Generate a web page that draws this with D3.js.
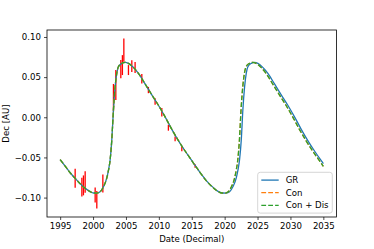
<!DOCTYPE html>
<html>
<head>
<meta charset="utf-8">
<script src="https://cdn.jsdelivr.net/npm/d3@7"></script>
<style>
  body { margin: 0; background: #fff; }
  text { font-family: "DejaVu Sans", sans-serif; font-size: 8.6px; fill: #000; }
</style>
</head>
<body>
<div class="chart"></div>
<script>
// GR model curve
let grYear = [1995.00, 1995.76, 1996.52, 1997.28, 1998.04, 1998.80, 1999.56, 2000.06, 2000.58, 2001.08,
    2001.58, 2002.09, 2002.34, 2002.60, 2002.85, 2003.10, 2003.35, 2003.61, 2003.85, 2004.37,
    2004.87, 2005.38, 2006.13, 2006.89, 2007.91, 2008.93, 2009.93, 2010.95, 2011.97, 2012.97,
    2013.99, 2015.01, 2015.51, 2016.27, 2017.28, 2018.29, 2019.00, 2019.73, 2020.25, 2020.75,
    2021.25, 2021.77, 2022.01, 2022.27, 2022.53, 2022.77, 2023.03, 2023.29, 2023.53, 2024.04,
    2024.55, 2025.05, 2025.80, 2026.57, 2027.58, 2028.60, 2029.60, 2030.62, 2031.64, 2032.64,
    2033.66, 2034.68, 2035.00];
let grDec = [-0.0526, -0.0609, -0.0691, -0.0761, -0.0827, -0.0885, -0.0926, -0.0943, -0.0944, -0.0928,
    -0.0866, -0.0755, -0.0662, -0.0526, -0.0278, 0.0093, 0.0378, 0.0551, 0.0629, 0.0671,
    0.0683, 0.0671, 0.0621, 0.0547, 0.0415, 0.0280, 0.0150, 0.0005, -0.0150, -0.0290,
    -0.0420, -0.0540, -0.0600, -0.0688, -0.0795, -0.0876, -0.0922, -0.0943, -0.0944, -0.0928,
    -0.0866, -0.0755, -0.0662, -0.0526, -0.0278, 0.0093, 0.0378, 0.0551, 0.0629, 0.0671,
    0.0683, 0.0671, 0.0621, 0.0547, 0.0415, 0.0280, 0.0150, 0.0005, -0.0150, -0.0290,
    -0.0420, -0.0540, -0.0576];

// Con / Con + Dis: same as GR on the first orbit, a bit earlier on the second
let conYear = [1995.00, 1995.76, 1996.52, 1997.28, 1998.04, 1998.80, 1999.56, 2000.06, 2000.58, 2001.08,
    2001.58, 2002.09, 2002.34, 2002.60, 2002.85, 2003.10, 2003.35, 2003.61, 2003.85, 2004.37,
    2004.87, 2005.38, 2006.13, 2006.89, 2007.91, 2008.93, 2009.93, 2010.95, 2011.97, 2012.97,
    2013.99, 2015.01, 2015.51, 2016.27, 2017.26, 2018.25, 2018.95, 2019.62, 2020.10, 2020.55,
    2021.03, 2021.52, 2021.75, 2022.00, 2022.25, 2022.49, 2022.75, 2023.01, 2023.25, 2023.76,
    2024.27, 2024.77, 2025.52, 2026.29, 2027.30, 2028.32, 2029.32, 2030.34, 2031.36, 2032.36,
    2033.38, 2034.40, 2035.00];
let conDec = [-0.0526, -0.0609, -0.0691, -0.0761, -0.0827, -0.0885, -0.0926, -0.0943, -0.0944, -0.0928,
    -0.0866, -0.0755, -0.0662, -0.0526, -0.0278, 0.0093, 0.0378, 0.0551, 0.0629, 0.0671,
    0.0683, 0.0671, 0.0621, 0.0547, 0.0415, 0.0280, 0.0150, 0.0005, -0.0150, -0.0290,
    -0.0420, -0.0540, -0.0600, -0.0688, -0.0795, -0.0876, -0.0922, -0.0943, -0.0944, -0.0928,
    -0.0866, -0.0755, -0.0662, -0.0526, -0.0278, 0.0093, 0.0378, 0.0551, 0.0629, 0.0671,
    0.0683, 0.0671, 0.0621, 0.0547, 0.0415, 0.0280, 0.0150, 0.0005, -0.0150, -0.0290,
    -0.0420, -0.0540, -0.0610];
let disYear = conYear.slice();
let disDec = conDec.slice();

// observations with errors
let obsYear = [1997.28, 1998.30, 1998.54, 1998.80, 2000.32, 2000.57, 2001.49, 2003.10, 2003.46, 2004.22,
    2004.46, 2004.68, 2005.38, 2005.89, 2006.39, 2007.41, 2008.41, 2009.43, 2010.45, 2011.45,
    2012.47, 2013.49, 2015.51];
let obsDec = [-0.0759, -0.0870, -0.0848, -0.0805, -0.0969, -0.1027, -0.0825, 0.0244, 0.0402, 0.0599,
    0.0650, 0.0836, 0.0588, 0.0637, 0.0619, 0.0480, 0.0339, 0.0196, 0.0062, -0.0130,
    -0.0269, -0.0392, -0.0606];
let obsErr = [0.0118, 0.0118, 0.0124, 0.0134, 0.0093, 0.0109, 0.0113, 0.0171, 0.0186, 0.0114,
    0.0124, 0.0145, 0.0062, 0.0074, 0.0068, 0.0058, 0.0039, 0.0041, 0.0052, 0.0037,
    0.0031, 0.0031, 0.0022];

let xTicks = [1995, 2000, 2005, 2010, 2015, 2020, 2025, 2030, 2035];
let yTicks = [-0.10, -0.05, 0.00, 0.05, 0.10];
let seriesNames = ["GR", "Con", "Con + Dis"];
let seriesColors = ["#1f77b4", "#ff7f0e", "#2ca02c"];

let svgWidth = 374;
let svgHeight = 249;
let margin = { top: 30, right: 37.5, bottom: 32, left: 47 };
let width = svgWidth - margin.left - margin.right;
let height = svgHeight - margin.top - margin.bottom;

let svg = d3.select(".chart")
    .append("svg")
    .attr("width", svgWidth)
    .attr("height", svgHeight);

let chartGroup = svg.append("g")
    .attr("transform", `translate(${margin.left}, ${margin.top})`);

// matplotlib-style 5% padding
function padded(lo, hi) {
    let p = (hi - lo) * 0.05;
    return [lo - p, hi + p];
}

let allX = grYear.concat(conYear, obsYear);
let allY = grDec.concat(conDec, obsDec.map((d, i) => d - obsErr[i]), obsDec.map((d, i) => d + obsErr[i]));

let xScale = d3.scaleLinear()
    .domain(padded(d3.min(allX), d3.max(allX)))
    .range([0, width]);
let yScale = d3.scaleLinear()
    .domain(padded(d3.min(allY), d3.max(allY)))
    .range([height, 0]);

// error bars
chartGroup.selectAll(".err")
    .data(obsYear)
    .enter()
    .append("line")
    .attr("x1", d => xScale(d))
    .attr("x2", d => xScale(d))
    .attr("y1", (d, i) => yScale(obsDec[i] - obsErr[i]))
    .attr("y2", (d, i) => yScale(obsDec[i] + obsErr[i]))
    .attr("stroke", "#ff0000")
    .attr("stroke-width", 1.3);

let line = d3.line()
    .x(d => xScale(d[0]))
    .y(d => yScale(d[1]))
    .curve(d3.curveMonotoneX);

let series = [
    d3.zip(grYear, grDec),
    d3.zip(conYear, conDec),
    d3.zip(disYear, disDec)
];

series.forEach(function (pts, i) {
    chartGroup.append("path")
        .datum(pts)
        .attr("d", line)
        .attr("fill", "none")
        .attr("stroke", seriesColors[i])
        .attr("stroke-width", 1.3)
        .attr("stroke-dasharray", i === 0 ? null : "4.8,2.1");
});

// axes
let xAxis = d3.axisBottom(xScale).tickValues(xTicks).tickFormat(d3.format("d"))
    .tickSize(3).tickPadding(3);
let yAxis = d3.axisLeft(yScale).tickValues(yTicks).tickFormat(d3.format(".2f"))
    .tickSize(3).tickPadding(3);

let xg = chartGroup.append("g")
    .attr("transform", `translate(0, ${height})`)
    .call(xAxis);
let yg = chartGroup.append("g")
    .call(yAxis);

[xg, yg].forEach(function (g) {
    g.select(".domain").remove();
    g.selectAll(".tick line").attr("stroke", "#000").attr("stroke-width", 0.7);
    g.selectAll(".tick text").attr("font-size", null).attr("font-family", null).attr("fill", "#000");
});

chartGroup.append("rect")
    .attr("width", width)
    .attr("height", height)
    .attr("fill", "none")
    .attr("stroke", "#000")
    .attr("stroke-width", 0.8);

// axis labels
svg.append("text")
    .attr("x", margin.left + width / 2)
    .attr("y", 242.3)
    .attr("text-anchor", "middle")
    .text("Date (Decimal)");

svg.append("text")
    .attr("transform", "translate(9.3, 123.5) rotate(-90)")
    .attr("text-anchor", "middle")
    .text("Dec [AU]");

// legend
let legend = svg.append("g")
    .attr("transform", "translate(257.7, 172.3)");

legend.append("rect")
    .attr("width", 74.6)
    .attr("height", 40.8)
    .attr("rx", 2.5)
    .attr("fill", "#fff")
    .attr("fill-opacity", 0.8)
    .attr("stroke", "#cccccc")
    .attr("stroke-width", 0.8);

seriesNames.forEach(function (name, i) {
    let cy = 7.8 + i * 12.6;
    legend.append("line")
        .attr("x1", 3.6)
        .attr("x2", 21)
        .attr("y1", cy)
        .attr("y2", cy)
        .attr("stroke", seriesColors[i])
        .attr("stroke-width", 1.3)
        .attr("stroke-dasharray", i === 0 ? null : "4.8,2.1");
    legend.append("text")
        .attr("x", 28)
        .attr("y", cy + 3.1)
        .text(name);
});
</script>
</body>
</html>
